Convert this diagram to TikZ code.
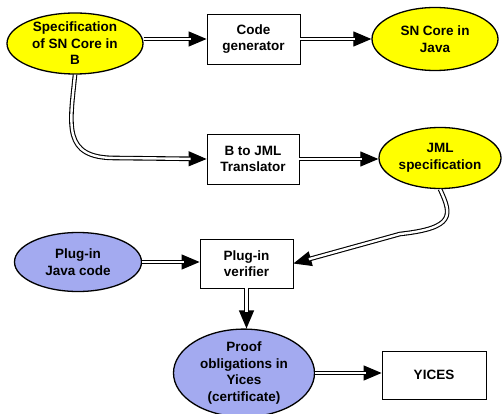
\documentclass[tikz,border=0pt]{standalone}
\usepackage{fontspec}
\setmainfont{Liberation Sans}
\usetikzlibrary{shapes.geometric,arrows.meta}
\definecolor{yel}{HTML}{FFFF00}
\definecolor{lav}{HTML}{A3AAF0}
\tikzset{
 base/.style={font=\fontsize{13.5}{16.5}\selectfont\bfseries, align=center, inner sep=0pt},
 yellip/.style={base, ellipse, draw, line width=1.3pt, fill=yel},
 bellip/.style={base, ellipse, draw, line width=1.3pt, fill=lav},
 proc/.style={base, rectangle, draw, line width=0.8pt, fill=white},
 tipline/.style={line width=1.1pt, -{Triangle[length=18pt,width=15pt]}},
 dblline/.style={line width=1.1pt, double=white, double distance=2.4pt, shorten >=16pt},
}
\newcommand\dblarrow[1]{\draw[tipline] #1; \draw[dblline] #1;}
\begin{document}
\begin{tikzpicture}[x=1pt,y=-1pt]
\useasboundingbox (0,0) rectangle (503,414);
\node[yellip, minimum width=136, minimum height=61] (spec) at (75,43.5) {Specification\\of SN Core in\\B};
\node[proc, minimum width=93, minimum height=50] (code) at (253.5,39) {Code\\generator};
\node[yellip, minimum width=126, minimum height=63] (sncore) at (435,39) {SN Core in\\Java};
\node[proc, minimum width=92, minimum height=50] (bjml) at (253,159) {B to JML\\Translator};
\node[yellip, minimum width=122, minimum height=61] (jml) at (440,158) {JML\\specification};
\node[bellip, minimum width=127, minimum height=59] (pjava) at (78,262) {Plug-in\\Java code};
\node[proc, minimum width=93, minimum height=49] (ver) at (246.5,263.5) {Plug-in\\verifier};
\node[bellip, minimum width=141, minimum height=80] (proof) at (244,373) {Proof\\obligations in\\Yices\\(certificate)};
\node[proc, minimum width=104, minimum height=48] (yices) at (434,375) {YICES};

\dblarrow{(spec.east |- code.west) -- (code.west)}
\dblarrow{(code.east) -- (code.east -| sncore.west)}
\dblarrow{(spec.south) .. controls (70,125) and (62,158) .. (115,158) -- (bjml.west)}
\dblarrow{(bjml.east) -- (bjml.east -| jml.west)}
\dblarrow{(jml.south) .. controls (452,215) and (455,228) .. (400,234) -- (ver.east)}
\dblarrow{(pjava.east) -- (pjava.east -| ver.west)}
\dblarrow{(ver.south) -- (ver.south |- proof.north)}
\dblarrow{(proof.east) -- (proof.east -| yices.west)}
\end{tikzpicture}
\end{document}
